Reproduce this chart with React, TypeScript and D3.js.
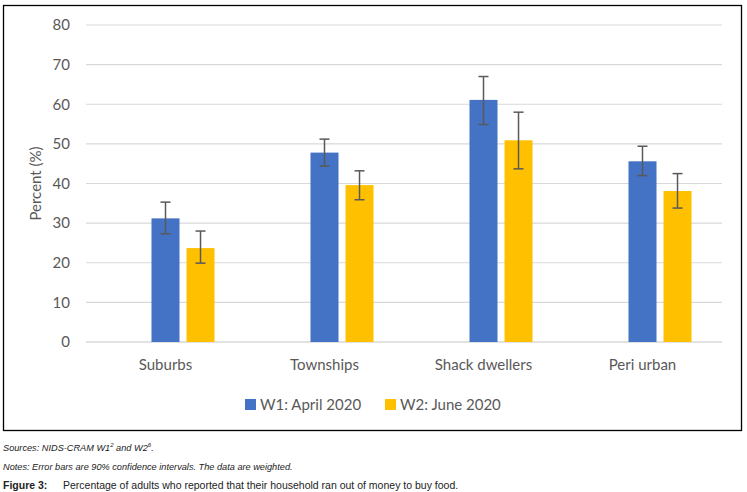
import * as d3 from "d3"

const categories = ["Suburbs", "Townships", "Shack dwellers", "Peri urban"]
const seriesNames = ["W1: April 2020", "W2: June 2020"]
// the original chart keeps an empty first series slot, which pushes the pair right
const slotNames = ["(empty)", ...seriesNames]
const w1 = [31.2, 47.8, 61.1, 45.6]
const w1Low = [27.3, 44.4, 54.9, 42.0]
const w1High = [35.3, 51.2, 67.0, 49.4]
const w2 = [23.7, 39.6, 50.9, 38.1]
const w2Low = [19.9, 35.9, 43.7, 33.8]
const w2High = [28.0, 43.2, 58.0, 42.5]
const yTicks = [0, 10, 20, 30, 40, 50, 60, 70, 80]

const colors = ["#4472C4", "#FFC000"]
const chartFont = "Lato, 'Open Sans', sans-serif"
const noteFont = "'Liberation Sans Narrow', 'Liberation Sans', Arial, sans-serif"

export default function App() {
  const width = 747
  const height = 492
  const margin = { top: 25, right: 25, bottom: 150, left: 86 }

  const x0 = d3
    .scaleBand()
    .domain(categories)
    .range([margin.left, width - margin.right])
    .padding(0)

  const x1 = d3
    .scaleBand()
    .domain(slotNames)
    .range([0, x0.bandwidth()])
    .paddingInner(0.2)
    .paddingOuter(0.87)

  const y = d3.scaleLinear().domain([0, 80]).range([342, 25])

  const series = [
    { name: seriesNames[0], values: w1, low: w1Low, high: w1High, color: colors[0] },
    { name: seriesNames[1], values: w2, low: w2Low, high: w2High, color: colors[1] },
  ]

  const cap = 5

  return (
    <svg
      width={width}
      height={height}
      style={{ position: "absolute", left: 0, top: 0, background: "white" }}
    >
      {/* chart frame */}
      <rect x={3.5} y={5.5} width={738} height={425} fill="white" stroke="#000" strokeWidth={1.3} />

      {/* gridlines */}
      {yTicks.map((t) => (
        <line
          key={t}
          x1={x0.range()[0]}
          x2={x0.range()[1]}
          y1={y(t)}
          y2={y(t)}
          stroke="#d9d9d9"
          strokeWidth={t === 0 ? 1.5 : 1.2}
        />
      ))}

      {/* y tick labels */}
      {yTicks.map((t) => (
        <text
          key={"l" + t}
          x={70}
          y={y(t)}
          dy="0.35em"
          textAnchor="end"
          fontFamily={chartFont}
          fontSize={15}
          fill="#595959"
        >
          {t}
        </text>
      ))}

      {/* y axis title */}
      <text
        transform={`translate(41,${(y(0) + y(80)) / 2}) rotate(-90)`}
        textAnchor="middle"
        fontFamily={chartFont}
        fontSize={15}
        fill="#595959"
      >
        Percent (%)
      </text>

      {/* bars */}
      {series.map((s) =>
        categories.map((c, i) => (
          <rect
            key={s.name + c}
            x={(x0(c) || 0) + (x1(s.name) || 0)}
            y={y(s.values[i])}
            width={x1.bandwidth()}
            height={y(0) - y(s.values[i])}
            fill={s.color}
          />
        ))
      )}

      {/* error bars */}
      {series.map((s) =>
        categories.map((c, i) => {
          const cx = (x0(c) || 0) + (x1(s.name) || 0) + x1.bandwidth() / 2
          return (
            <g key={"e" + s.name + c} stroke="#595959" strokeWidth={1.5}>
              <line x1={cx} x2={cx} y1={y(s.low[i])} y2={y(s.high[i])} />
              <line x1={cx - cap} x2={cx + cap} y1={y(s.low[i])} y2={y(s.low[i])} />
              <line x1={cx - cap} x2={cx + cap} y1={y(s.high[i])} y2={y(s.high[i])} />
            </g>
          )
        })
      )}

      {/* category labels */}
      {categories.map((c) => (
        <text
          key={"c" + c}
          x={(x0(c) || 0) + x0.bandwidth() / 2}
          y={370}
          textAnchor="middle"
          fontFamily={chartFont}
          fontSize={15}
          fill="#595959"
        >
          {c}
        </text>
      ))}

      {/* legend */}
      {series.map((s, i) => {
        const lx = i === 0 ? 245 : 385
        return (
          <g key={"lg" + s.name}>
            <rect x={lx} y={399} width={11} height={11} fill={s.color} />
            <text x={lx + 15} y={410} fontFamily={chartFont} fontSize={15} fill="#595959">
              {s.name}
            </text>
          </g>
        )
      })}

      {/* notes under the figure */}
      <text x={3} y={451} fontFamily={noteFont} fontSize={9.2} fontStyle="italic" fill="#222">
        Sources: NIDS-CRAM W1
        <tspan fontSize={6} dy={-4}>2</tspan>
        <tspan dy={4}> and W2</tspan>
        <tspan fontSize={6} dy={-4}>6</tspan>
        <tspan dy={4}>.</tspan>
      </text>
      <text x={3} y={470} fontFamily={noteFont} fontSize={9.2} fontStyle="italic" fill="#222">
        Notes: Error bars are 90% confidence intervals. The data are weighted.
      </text>
      <text x={3} y={489} fontFamily={noteFont} fontSize={10.5} fill="#222">
        <tspan fontWeight="bold">Figure 3:</tspan>
        <tspan x={63}>Percentage of adults who reported that their household ran out of money to buy food.</tspan>
      </text>
    </svg>
  )
}
